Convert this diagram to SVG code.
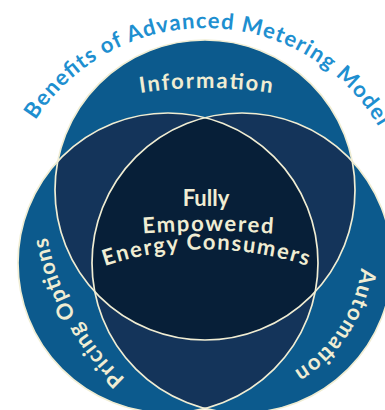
<svg xmlns="http://www.w3.org/2000/svg" width="385" height="410" viewBox="0 0 385 410">
  <style>
    .lbl { font-family: Lato, "Open Sans", "DejaVu Sans", sans-serif; font-weight: 700; fill: #f0edd3; }
    .title { font-family: Lato, "Open Sans", "DejaVu Sans", sans-serif; font-weight: 700; fill: #1e8fd0; font-size: 22px; }
    .single { fill: #0c5a8d; }
    .pair { fill: #14345a; }
    .triple { fill: #071f38; }
    .ring { fill: none; stroke: #f0edd3; stroke-width: 1.7; }
  </style>
  <defs>
    <circle id="cT" cx="205" cy="190" r="150"/>
    <circle id="cL" cx="168" cy="263" r="150"/>
    <circle id="cR" cx="242" cy="263" r="150"/>
    <clipPath id="clipT"><use href="#cT"/></clipPath>
    <clipPath id="clipL"><use href="#cL"/></clipPath>
    <path id="titleArc" d="M 15.2 160.9 A 202 202 0 0 1 394.8 160.9"/>
    <path id="infoArc" d="M 130.1 94.6 A 437 437 0 0 1 281.9 94.6"/>
    <path id="pricingArc" d="M 152.6 400.5 A 257 257 0 0 1 43 190"/>
    <path id="autoArc" d="M 362 251 A 140 140 0 0 1 269.9 382.6"/>
    <path id="empArc" d="M 133 234.5 A 800 800 0 0 1 283 234.5"/>
    <path id="energyArc" d="M 96 269 A 320 320 0 0 1 316 269"/>
  </defs>

  <!-- heading along the top -->
  <text class="title"><textPath href="#titleArc" startOffset="45.5" textLength="410" lengthAdjust="spacing">Benefits of Advanced Metering Model</textPath></text>

  <!-- single-set areas -->
  <g id="information">
    <use href="#cT" class="single"/>
  </g>
  <g id="pricing-options">
    <use href="#cL" class="single"/>
  </g>
  <g id="automation">
    <use href="#cR" class="single"/>
  </g>

  <!-- pairwise overlaps -->
  <g id="overlaps">
    <g clip-path="url(#clipT)"><use href="#cL" class="pair"/><use href="#cR" class="pair"/></g>
    <g clip-path="url(#clipL)"><use href="#cR" class="pair"/></g>
  </g>

  <!-- centre: all three -->
  <g id="consumers">
    <g clip-path="url(#clipT)"><g clip-path="url(#clipL)"><use href="#cR" class="triple"/></g></g>
  </g>

  <!-- circle outlines -->
  <g id="outlines">
    <use href="#cT" class="ring"/>
    <use href="#cL" class="ring"/>
    <use href="#cR" class="ring"/>
  </g>

  <!-- labels -->
  <text class="lbl" font-size="22" text-anchor="middle"><textPath href="#infoArc" startOffset="50%" textLength="132" lengthAdjust="spacing">Information</textPath></text>
  <text class="lbl" font-size="22"><textPath href="#pricingArc" startOffset="35" textLength="164" lengthAdjust="spacing">Pricing Options</textPath></text>
  <text class="lbl" font-size="22"><textPath href="#autoArc" startOffset="17" textLength="127" lengthAdjust="spacing">Automation</textPath></text>
  <text class="lbl" font-size="22" x="206" y="206" text-anchor="middle">Fully</text>
  <text class="lbl" font-size="22" text-anchor="middle"><textPath href="#empArc" startOffset="50%" textLength="130" lengthAdjust="spacing">Empowered</textPath></text>
  <text class="lbl" font-size="22" text-anchor="middle"><textPath href="#energyArc" startOffset="50%" textLength="206" lengthAdjust="spacing">Energy Consumers</textPath></text>
</svg>
